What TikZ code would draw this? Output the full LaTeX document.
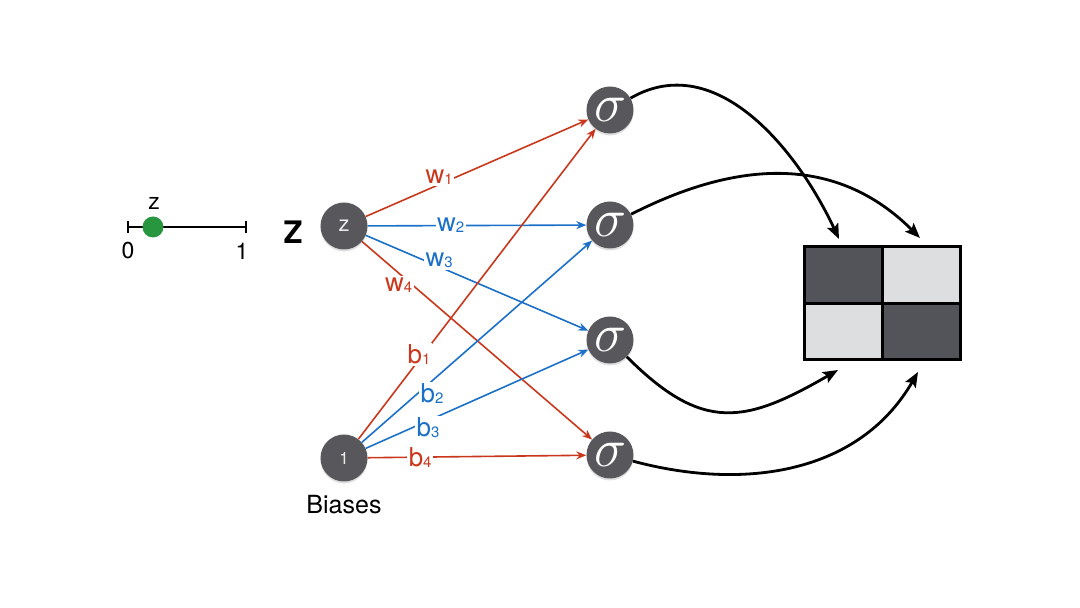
\RequirePackage{fix-cm}
\documentclass[tikz,border=0pt]{standalone}
\usepackage{fontspec}
\setmainfont{TeX Gyre Heros}
\usetikzlibrary{arrows.meta,shadows}
\definecolor{wred}{RGB}{201,56,28}
\definecolor{wblue}{RGB}{28,112,200}
\definecolor{ngray}{RGB}{88,88,92}
\definecolor{dcell}{RGB}{82,84,90}
\definecolor{lcell}{RGB}{221,222,224}
\definecolor{dotgreen}{RGB}{40,150,62}
\newcommand\lsub[1]{\raisebox{-1pt}{\fontsize{15}{15}\selectfont #1}}
\begin{document}
\begin{tikzpicture}[x=1pt,y=1pt,
  neuron/.style={circle,fill=ngray,minimum size=47pt,inner sep=0pt,text=white,
    drop shadow={shadow xshift=0pt,shadow yshift=-2pt,opacity=0.25}},
  sig/.style={neuron,font=\fontsize{54}{54}\selectfont},
  lbl/.style={fill=white,inner sep=1.5pt,font=\fontsize{26}{26}\selectfont},
  lblr/.style={lbl,text=wred},
  lblb/.style={lbl,text=wblue},
  redw/.style={draw=wred,line width=1.6pt,-{Stealth[length=10pt,width=8pt]}},
  bluew/.style={draw=wblue,line width=1.6pt,-{Stealth[length=10pt,width=8pt]}},
  outarrow/.style={draw=black,line width=2.8pt,-{Stealth[length=15pt,width=12pt,inset=3pt]}},
  cell/.style={draw=black,line width=3pt,minimum width=78pt,minimum height=56.5pt,inner sep=0pt},
  txt/.style={inner sep=0pt}
]
\useasboundingbox (0,0) rectangle (1080,608);

% number line
\coordinate (nl0) at (128,381);
\coordinate (nl1) at (246,381);
\draw[line width=2.5pt] (nl0) -- (nl1);
\draw[line width=2.5pt] ([yshift=-6pt]nl0) -- ([yshift=6pt]nl0);
\draw[line width=2.5pt] ([yshift=-6pt]nl1) -- ([yshift=6pt]nl1);
\node[circle,fill=dotgreen,minimum size=21pt,inner sep=0pt] (dot) at (153,381) {};
\node[txt,font=\fontsize{23}{23}\selectfont] (zsmall) at (154,405) {z};
\node[txt,font=\fontsize{23}{23}\selectfont] (zero) at (128,357) {0};
\node[txt,font=\fontsize{23}{23}\selectfont] (one) at (242,357) {1};
\node[txt,font=\bfseries\fontsize{31}{31}\selectfont] (Zbig) at (293,376) {Z};

% input nodes
\node[neuron,text=white!92!black,font=\fontsize{22}{22}\selectfont] (z) at (344,382) {z};
\node[neuron,text=white!92!black,font=\fontsize{17}{17}\selectfont] (b) at (344,150) {1};
\node[txt,font=\fontsize{25}{25}\selectfont] (biases) at (344,103) {Biases};

% sigma nodes
\node[sig] (s1) at (610,498) {$\sigma$};
\node[sig] (s2) at (610,383) {$\sigma$};
\node[sig] (s3) at (610,268) {$\sigma$};
\node[sig] (s4) at (610,153) {$\sigma$};

% weights
\draw[redw] (z) -- node[lblr,pos=0.33,yshift=7pt] {w\lsub{1}} (s1);
\draw[bluew] (z) -- node[lblb,pos=0.38] {w\lsub{2}} (s2);
\draw[bluew] (z) -- node[lblb,pos=0.33,yshift=6pt] {w\lsub{3}} (s3);
\draw[redw] (z) -- node[lblr,pos=0.16,yshift=-12pt] {w\lsub{4}} (s4);

% biases
\draw[redw] (b) -- node[lblr,pos=0.256,yshift=5pt] {b\lsub{1}} (s1);
\draw[bluew] (b) -- node[lblb,pos=0.305,yshift=-13pt] {b\lsub{2}} (s2);
\draw[bluew] (b) -- node[lblb,pos=0.28,yshift=-7pt] {b\lsub{3}} (s3);
\draw[redw] (b) -- node[lblr,pos=0.24] {b\lsub{4}} (s4);

% output grid
\node[cell,fill=dcell] (c11) at (843.5,332.75) {};
\node[cell,fill=lcell] (c12) at (921.5,332.75) {};
\node[cell,fill=lcell] (c21) at (843.5,276.25) {};
\node[cell,fill=dcell] (c22) at (921.5,276.25) {};

\coordinate (t1) at (839,369);
\coordinate (t2) at (920,370);
\coordinate (t3) at (838,238);
\coordinate (t4) at (918,236);

\draw[outarrow] (s1) to[out=30,in=115] (t1);
\draw[outarrow] (s2) to[out=27,in=135,looseness=1.05] (t2);
\draw[outarrow] (s3) to[out=-45,in=-150,looseness=1.3] (t3);
\draw[outarrow] (s4) to[out=-15,in=-120] (t4);
\end{tikzpicture}
\end{document}
